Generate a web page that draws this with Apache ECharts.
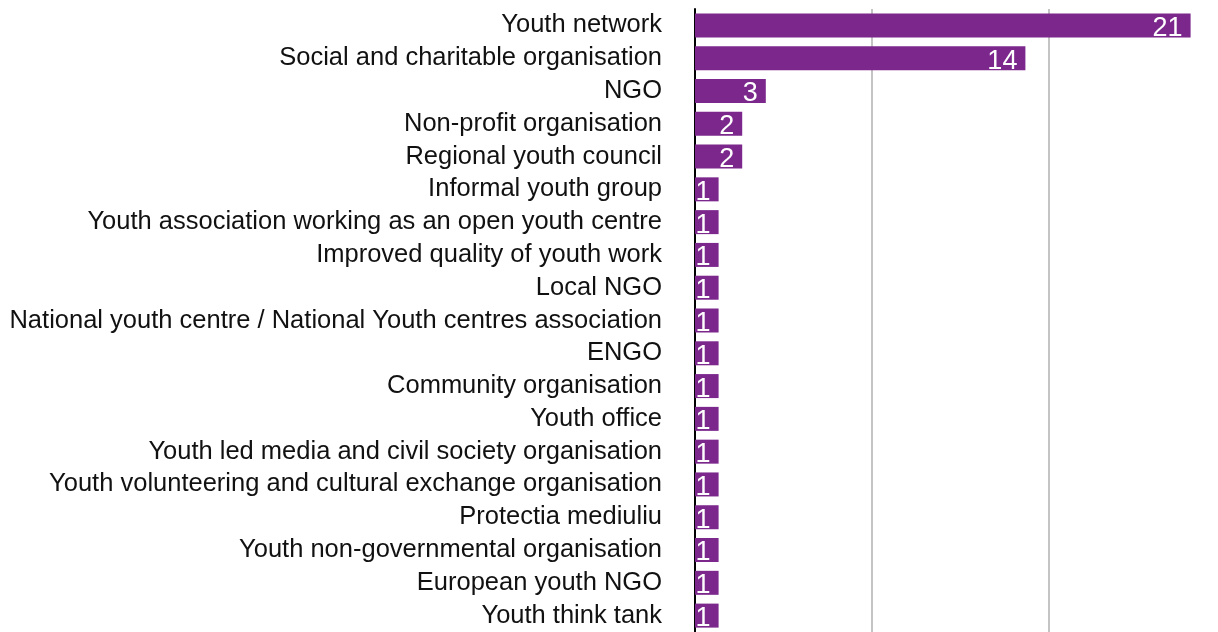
<!DOCTYPE html>
<html>
<head>
<meta charset="utf-8">
<script src="https://cdn.jsdelivr.net/npm/echarts@6/dist/echarts.min.js"></script>
<style>
  html, body { margin: 0; padding: 0; background: #ffffff; }
  #chart { width: 1218px; height: 632px; }
</style>
</head>
<body>
<div id="chart"></div>
<script>
// Organisation types and how many respondents named each
const categories = [
  'Youth network',
  'Social and charitable organisation',
  'NGO',
  'Non-profit organisation',
  'Regional youth council',
  'Informal youth group',
  'Youth association working as an open youth centre',
  'Improved quality of youth work',
  'Local NGO',
  'National youth centre / National Youth centres association',
  'ENGO',
  'Community organisation',
  'Youth office',
  'Youth led media and civil society organisation',
  'Youth volunteering and cultural exchange organisation',
  'Protectia mediuliu',
  'Youth non-governmental organisation',
  'European youth NGO',
  'Youth think tank'
];
const counts = [21, 14, 3, 2, 2, 1, 1, 1, 1, 1, 1, 1, 1, 1, 1, 1, 1, 1, 1];

const chart = echarts.init(document.getElementById('chart'), null, { renderer: 'canvas' });

const purple = '#7b278c';

chart.setOption({
  animation: false,
  backgroundColor: '#ffffff',
  grid: { left: 695, top: 9, width: 531, height: 623, outerBoundsMode: 'none', containLabel: false },
  xAxis: {
    type: 'value',
    min: 0,
    max: 22.5,
    interval: 7.5,
    axisLine: { show: false },
    axisTick: { show: false },
    axisLabel: { show: false },
    splitLine: { show: true, lineStyle: { color: '#c4c4c4', width: 2 } }
  },
  yAxis: {
    type: 'category',
    inverse: true,
    data: categories,
    axisLine: { show: true, onZero: false, lineStyle: { color: '#000000', width: 2 } },
    axisTick: { show: false },
    axisLabel: {
      interval: 0,
      hideOverlap: false,
      margin: 33,
      color: '#111111',
      fontFamily: 'Liberation Sans',
      fontSize: 25.5
    }
  },
  series: [{
    type: 'bar',
    data: counts,
    barWidth: 24,
    itemStyle: { color: purple },
    label: {
      show: true,
      position: 'insideRight',
      distance: 8,
      offset: [0, 3],
      color: '#ffffff',
      fontFamily: 'Liberation Sans',
      fontSize: 27
    }
  }],
  // faint emblem showing through the top bars
  graphic: [{
    type: 'group',
    silent: true,
    z: 100,
    children: [
      { type: 'circle', shape: { cx: 855, cy: 45, r: 127 },
        style: { fill: null, stroke: 'rgba(255,255,255,0.14)', lineWidth: 3 } },
      { type: 'circle', shape: { cx: 855, cy: 45, r: 55 },
        style: { fill: null, stroke: 'rgba(255,255,255,0.10)', lineWidth: 3 } },
      { type: 'line', shape: { x1: 800, y1: 16, x2: 870, y2: 30 },
        style: { stroke: 'rgba(255,255,255,0.14)', lineWidth: 4 } },
      { type: 'line', shape: { x1: 800, y1: 50, x2: 870, y2: 64 },
        style: { stroke: 'rgba(255,255,255,0.14)', lineWidth: 4 } }
    ]
  }]
});
</script>
</body>
</html>
